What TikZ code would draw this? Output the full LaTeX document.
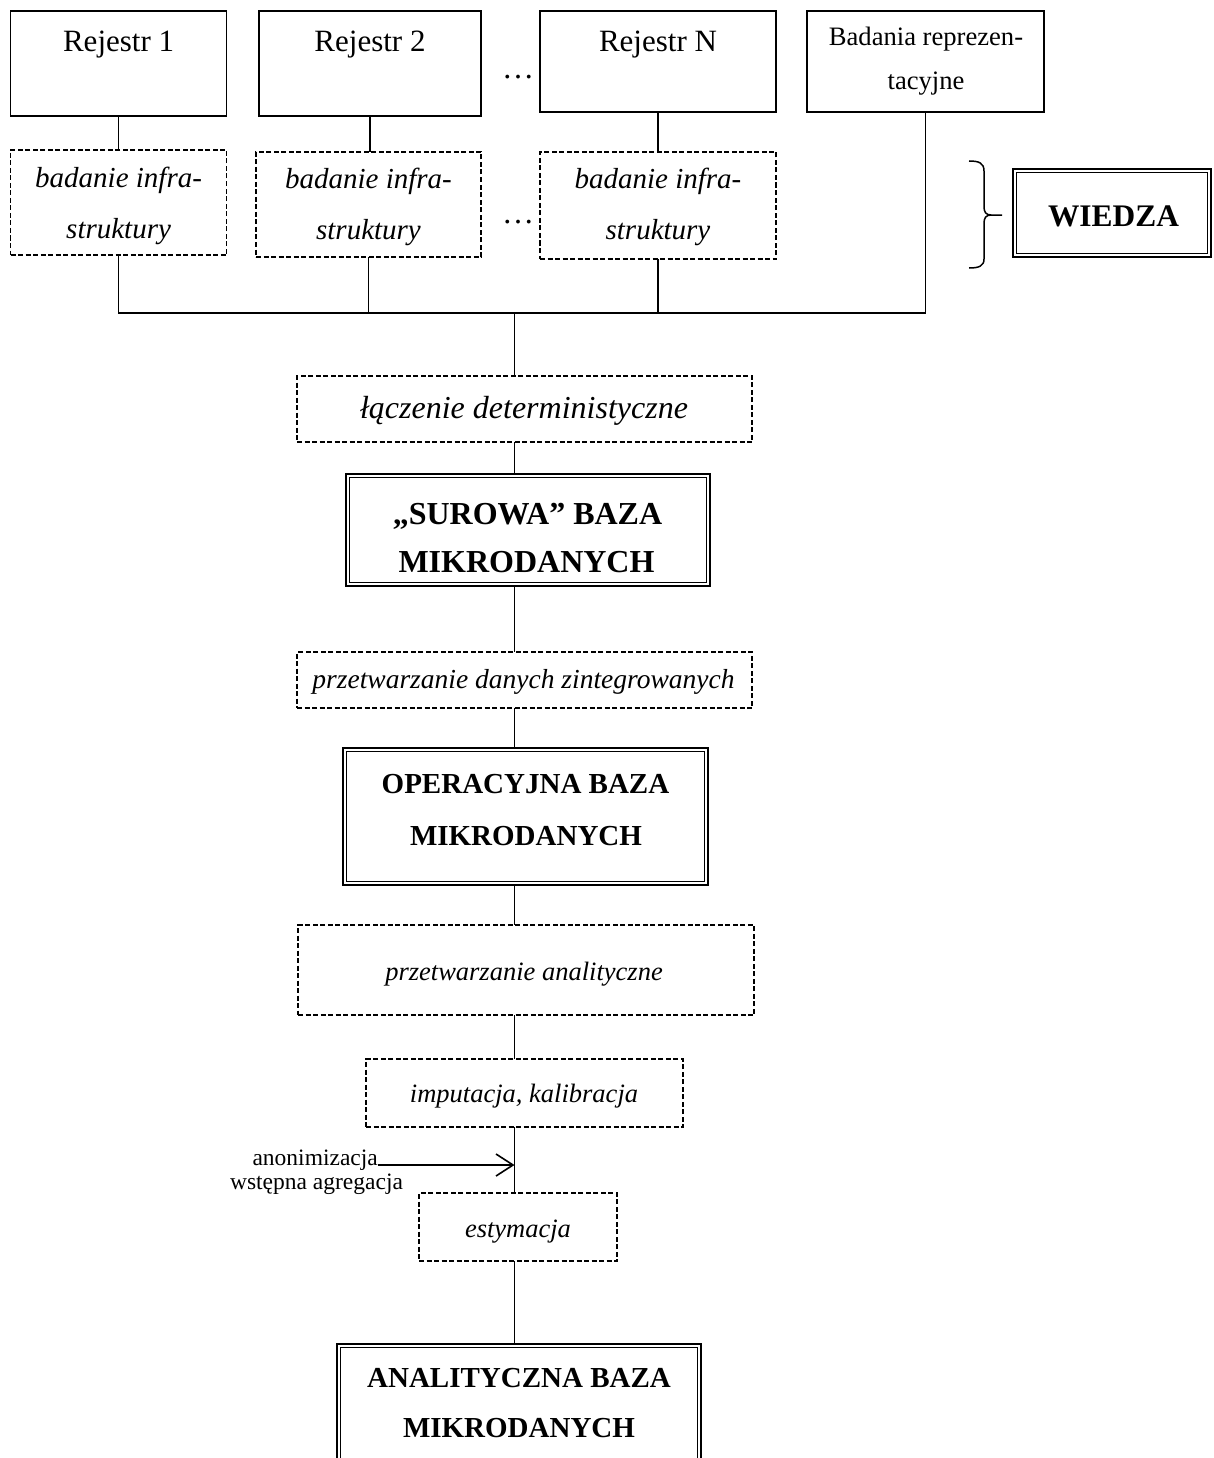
\documentclass[tikz,border=0pt]{standalone}
\usepackage{fontspec}
\setmainfont{Liberation Serif}
\usetikzlibrary{arrows.meta}
\newcommand\setfs[1]{\fontsize{#1}{#1}\selectfont}
\begin{document}
\begin{tikzpicture}[x=1pt,y=-1pt,
  solidbox/.style={draw, line width=1.7pt, inner sep=0pt, outer sep=0pt},
  dashbox/.style={draw, line width=1.5pt, dash pattern=on 5pt off 2.5pt, inner sep=0pt, outer sep=0pt},
  dblbox/.style={draw, line width=1.2pt, double, double distance=2.1pt, inner sep=0pt, outer sep=2pt},
  link/.style={line width=1.6pt},
  regtext/.style={anchor=base, inner sep=0pt, font=\setfs{31}},
  smalltext/.style={anchor=base, inner sep=0pt, font=\setfs{26.6}},
  proc/.style={anchor=base, inner sep=0pt, font=\itshape\setfs{#1}},
  heavy/.style={anchor=base, inner sep=0pt, font=\bfseries\setfs{#1}},
  annot/.style={inner sep=0pt, font=\setfs{23.5}},
]
\useasboundingbox (0,0) rectangle (1213,1458);
\clip (0,0) rectangle (1213,1458);

% sources
\node[solidbox, minimum width=216pt, minimum height=105pt] (r1) at (118.6,63.5) {};
\node[regtext] (r1t) at (118.6,52) {Rejestr 1};
\node[solidbox, minimum width=222pt, minimum height=105pt] (r2) at (370,63.5) {};
\node[regtext] (r2t) at (370,52) {Rejestr 2};
\node[solidbox, minimum width=236pt, minimum height=101pt] (rN) at (658,61.5) {};
\node[regtext] (rNt) at (658,52) {Rejestr N};
\node[solidbox, minimum width=237pt, minimum height=101pt] (bad) at (925.5,61.5) {};
\node[smalltext] (badt1) at (926,46) {Badania reprezen-};
\node[smalltext] (badt2) at (926,90) {tacyjne};
\node[regtext, font=\setfs{32}] (dots1) at (518,79) {…};

% infrastructure studies
\node[dashbox, minimum width=216pt, minimum height=105pt] (i1) at (118.6,202.5) {};
\node[proc=29] (i1a) at (118.6,188) {badanie infra-};
\node[proc=29] (i1b) at (118.6,238) {struktury};
\node[dashbox, minimum width=225pt, minimum height=105pt] (i2) at (368.5,204.5) {};
\node[proc=29] (i2a) at (368.5,189) {badanie infra-};
\node[proc=29] (i2b) at (368.5,239) {struktury};
\node[dashbox, minimum width=236pt, minimum height=107pt] (iN) at (658,205.5) {};
\node[proc=29] (iNa) at (658,189) {badanie infra-};
\node[proc=29] (iNb) at (658,239) {struktury};
\node[regtext, font=\setfs{32}] (dots2) at (518,223) {…};

% knowledge
\node[dblbox, minimum width=194.7pt, minimum height=84.7pt] (wiedza) at (1112,213) {};
\node[heavy=31.4] (wiedzat) at (1113.5,226) {WIEDZA};
\draw[line width=1.5pt] (969,161) .. controls (979,161) and (984,163) .. (984,171)
  -- (984,207) .. controls (984,212) and (986,215) .. (991,215) -- (1002,215)
  (991,215) .. controls (986,215) and (984,218) .. (984,223)
  -- (984,259) .. controls (984,266) and (979,268) .. (969,268);

% main chain
\coordinate (bus) at (514.5,312.7);
\node[dashbox, minimum width=455pt, minimum height=66pt] (lacz) at (524.5,409) {};
\node[proc=32] (laczt) at (524,418) {łączenie deterministyczne};
\node[dblbox, minimum width=360.7pt, minimum height=108.7pt] (surowa) at (528,530) {};
\node[heavy=32] (surowa1) at (527.5,524) {„SUROWA” BAZA};
\node[heavy=32] (surowa2) at (526.5,572) {MIKRODANYCH};
\node[dashbox, minimum width=455pt, minimum height=56pt] (ptdz) at (524.5,680) {};
\node[proc=27.5] (ptdzt) at (523.5,688) {przetwarzanie danych zintegrowanych};
\node[dblbox, minimum width=361.7pt, minimum height=133.7pt] (oper) at (525.5,816.5) {};
\node[heavy=29] (oper1) at (525.5,793) {OPERACYJNA BAZA};
\node[heavy=29] (oper2) at (526,845) {MIKRODANYCH};
\node[dashbox, minimum width=456pt, minimum height=90pt] (pa) at (526,970) {};
\node[proc=26.5] (pat) at (524,980) {przetwarzanie analityczne};
\node[dashbox, minimum width=317pt, minimum height=68pt] (imp) at (524.5,1093) {};
\node[proc=26.5] (impt) at (524,1102) {imputacja, kalibracja};
\node[dashbox, minimum width=198pt, minimum height=68pt] (est) at (518,1227) {};
\node[proc=26.5] (estt) at (518,1237) {estymacja};
\node[dblbox, minimum width=360.7pt, minimum height=130pt] (anal) at (519,1410.7) {};
\node[heavy=29] (anal1) at (519,1387) {ANALITYCZNA BAZA};
\node[heavy=29] (anal2) at (519,1437) {MIKRODANYCH};

\node[annot, anchor=base east] (anon) at (378,1165) {anonimizacja};
\node[annot, anchor=base] (wst) at (316.5,1189) {wstępna agregacja};

% connectors
\draw[link] (r1) -- (i1);
\draw[link] (r2.south) -- (r2.south |- i2.north);
\draw[link] (rN) -- (iN);
\draw[link] (i1.south) |- (bad.south |- bus) -- (bad.south);
\draw[link] (i2.south) -- (i2.south |- bus);
\draw[link] (iN.south) -- (iN.south |- bus);
\draw[link] (bus) -- (bus |- lacz.north);
\draw[link] (bus |- lacz.south) -- (bus |- surowa.north);
\draw[link] (bus |- surowa.south) -- (bus |- ptdz.north);
\draw[link] (bus |- ptdz.south) -- (bus |- oper.north);
\draw[link] (bus |- oper.south) -- (bus |- pa.north);
\draw[link] (bus |- pa.south) -- (bus |- imp.north);
\draw[link] (bus |- imp.south) -- (bus |- est.north);
\draw[link] (bus |- est.south) -- (bus |- anal.north);
\draw[link, -{Straight Barb[length=17pt,width=22pt]}] (anon.base east) -- (anon.base east -| bus);
\end{tikzpicture}
\end{document}
